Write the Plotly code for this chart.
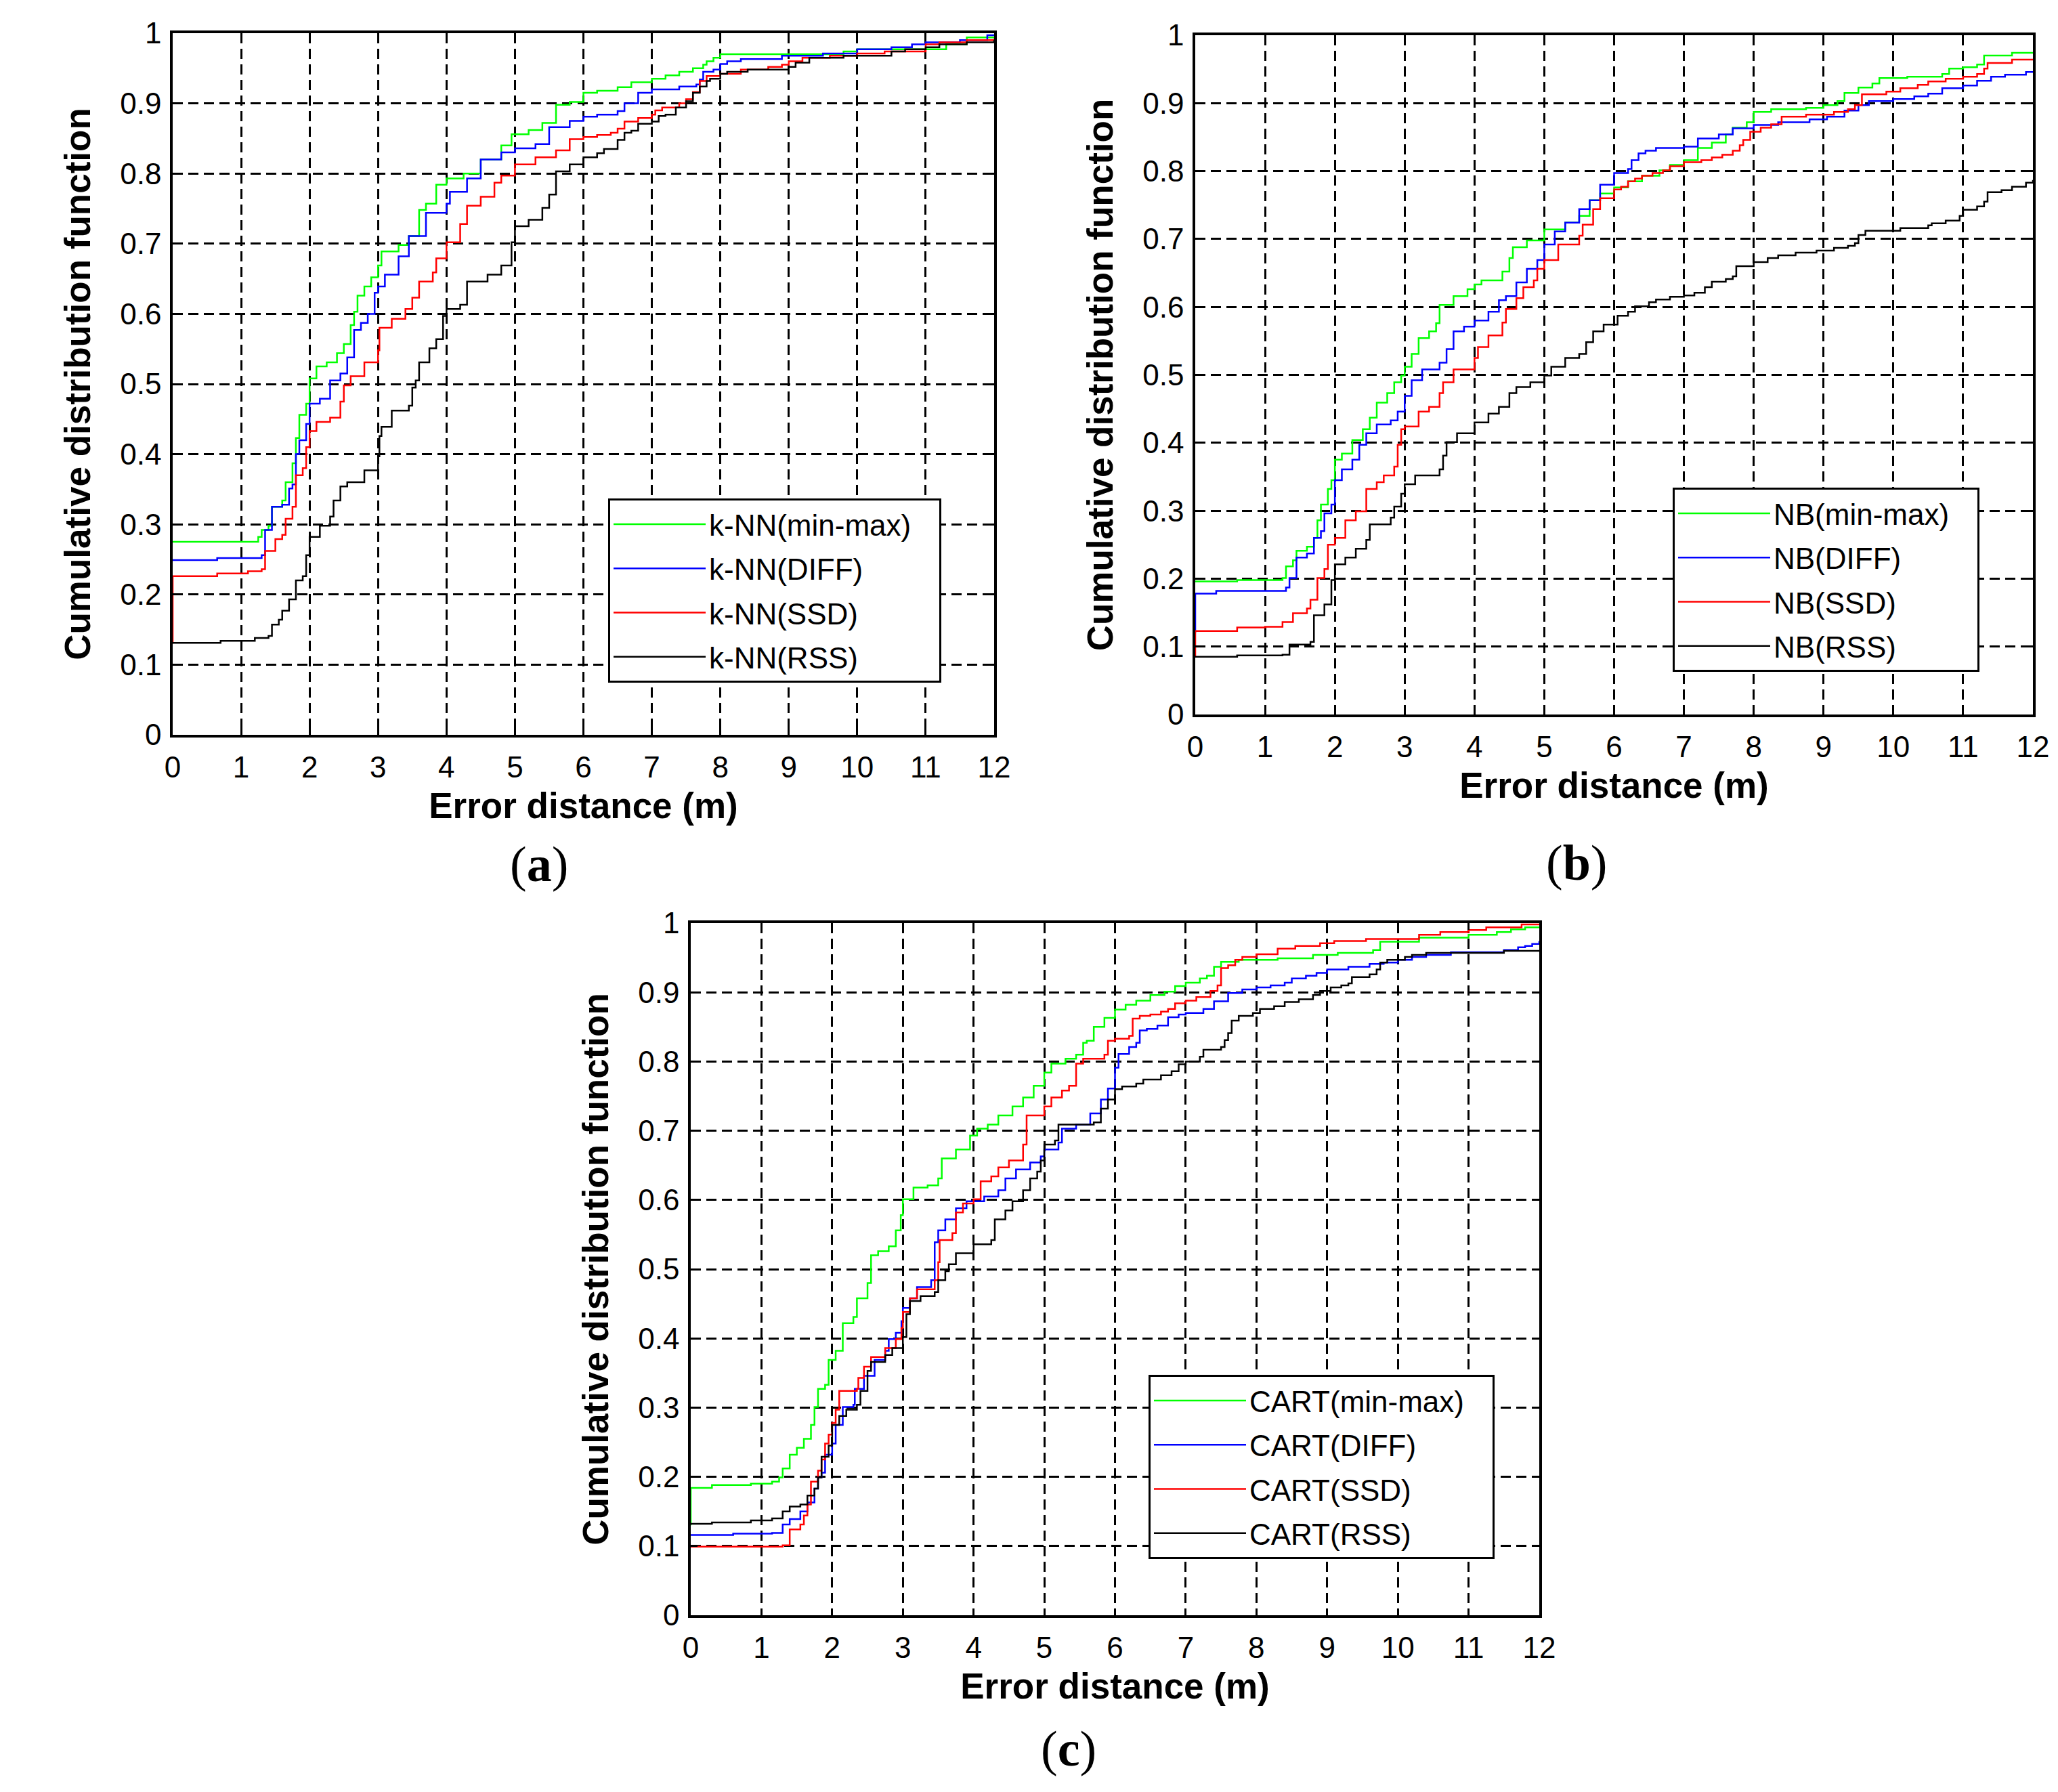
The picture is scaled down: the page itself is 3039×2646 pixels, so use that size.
import plotly.graph_objects as go

# ---------------- data (error distance in m, CDF) ----------------
# (a) k-NN
A_MINMAX_X = [0, 1.25, 1.3, 1.4, 1.45, 1.6, 1.65, 1.75, 1.8, 1.85, 1.95, 2.0, 2.1, 2.25, 2.4, 2.5, 2.6, 2.65, 2.7, 2.8,
              2.9, 3.0, 3.05, 3.3, 3.45, 3.6, 3.7, 3.85, 4.0, 4.25, 4.5, 4.8, 4.95, 5.2, 5.4, 5.6, 5.8, 6.0, 6.2, 6.5,
              6.7, 7.0, 7.2, 7.4, 7.6, 7.75, 7.8, 7.9, 8.0, 9.8, 10.0, 11.3, 11.6, 12.0]
A_MINMAX_Y = [0.275, 0.282, 0.292, 0.298, 0.325, 0.334, 0.36, 0.387, 0.423, 0.456, 0.472, 0.508, 0.525, 0.531, 0.544,
              0.557, 0.584, 0.603, 0.626, 0.639, 0.652, 0.669, 0.689, 0.698, 0.711, 0.748, 0.757, 0.784, 0.793, 0.8,
              0.82, 0.84, 0.856, 0.862, 0.872, 0.898, 0.902, 0.915, 0.918, 0.923, 0.93, 0.935, 0.94, 0.945, 0.95,
              0.955, 0.96, 0.965, 0.97, 0.974, 0.977, 0.984, 0.994, 0.994]
A_DIFF_X = [0, 0.65, 1.3, 1.35, 1.45, 1.6, 1.7, 1.75, 1.8, 1.85, 1.95, 2.0, 2.15, 2.3, 2.45, 2.55, 2.65, 2.75, 2.85,
            2.95, 3.0, 3.1, 3.3, 3.45, 3.7, 4.0, 4.05, 4.3, 4.5, 4.8, 5.0, 5.3, 5.5, 5.8, 6.0, 6.2, 6.5, 6.6, 6.8,
            7.0, 7.4, 7.65, 7.7, 7.75, 7.9, 8.0, 8.1, 8.3, 8.9, 9.5, 10.0, 10.5, 10.8, 11.0, 11.5, 11.9, 12.0]
A_DIFF_Y = [0.249, 0.252, 0.256, 0.292, 0.325, 0.328, 0.351, 0.357, 0.4, 0.42, 0.443, 0.472, 0.479, 0.505, 0.515,
            0.538, 0.577, 0.587, 0.6, 0.63, 0.639, 0.656, 0.682, 0.711, 0.744, 0.757, 0.774, 0.793, 0.82, 0.83,
            0.836, 0.842, 0.866, 0.875, 0.881, 0.884, 0.889, 0.9, 0.915, 0.92, 0.924, 0.927, 0.934, 0.945, 0.948,
            0.956, 0.96, 0.963, 0.968, 0.971, 0.977, 0.98, 0.984, 0.987, 0.99, 0.997, 0.997]
A_SSD_X = [0, 0, 0.65, 1.1, 1.3, 1.35, 1.5, 1.6, 1.65, 1.75, 1.8, 1.9, 1.95, 2.0, 2.1, 2.3, 2.45, 2.5, 2.6, 2.8, 3.0,
           3.02, 3.2, 3.4, 3.5, 3.6, 3.8, 3.85, 4.0, 4.2, 4.3, 4.5, 4.7, 4.8, 5.0, 5.3, 5.6, 5.8, 6.0, 6.2, 6.4,
           6.5, 6.6, 6.8, 7.0, 7.05, 7.15, 7.4, 7.5, 7.6, 7.7, 7.8, 8.0, 8.3, 8.7, 8.9, 9.0, 9.2, 9.6, 10.0, 10.4,
           11.0, 11.2, 11.6, 12.0]
A_SSD_Y = [0.13, 0.226, 0.23, 0.233, 0.236, 0.262, 0.279, 0.285, 0.308, 0.325, 0.37, 0.38, 0.41, 0.433, 0.446, 0.452,
           0.475, 0.498, 0.511, 0.531, 0.548, 0.58, 0.593, 0.607, 0.623, 0.646, 0.659, 0.679, 0.702, 0.728, 0.754,
           0.767, 0.787, 0.797, 0.813, 0.823, 0.833, 0.849, 0.852, 0.855, 0.858, 0.864, 0.874, 0.879, 0.884, 0.89,
           0.894, 0.9, 0.906, 0.916, 0.932, 0.939, 0.942, 0.948, 0.952, 0.955, 0.96, 0.965, 0.968, 0.971, 0.974,
           0.984, 0.987, 0.99, 0.992]
A_RSS_X = [0, 0.7, 1.2, 1.4, 1.45, 1.55, 1.6, 1.7, 1.8, 1.9, 1.95, 2.0, 2.15, 2.3, 2.35, 2.45, 2.55, 2.8, 3.0, 3.02,
           3.05, 3.2, 3.45, 3.5, 3.55, 3.6, 3.75, 3.85, 3.95, 4.0, 4.2, 4.3, 4.6, 4.8, 4.95, 5.0, 5.2, 5.4, 5.5, 5.6,
           5.8, 6.0, 6.2, 6.3, 6.5, 6.6, 6.7, 6.8, 7.0, 7.1, 7.2, 7.35, 7.5, 7.6, 7.7, 7.8, 7.85, 8.0, 8.1, 8.4,
           9.0, 9.1, 9.3, 9.8, 10.5, 10.7, 11.0, 11.2, 11.6, 12.0]
A_RSS_Y = [0.131, 0.134, 0.138, 0.141, 0.157, 0.164, 0.177, 0.193, 0.22, 0.226, 0.256, 0.282, 0.298, 0.311, 0.334,
           0.354, 0.36, 0.377, 0.397, 0.426, 0.439, 0.462, 0.469, 0.495, 0.505, 0.531, 0.551, 0.564, 0.597, 0.607,
           0.613, 0.646, 0.656, 0.669, 0.702, 0.725, 0.734, 0.751, 0.77, 0.803, 0.813, 0.823, 0.829, 0.835, 0.848,
           0.858, 0.861, 0.871, 0.874, 0.882, 0.884, 0.894, 0.903, 0.915, 0.924, 0.932, 0.935, 0.942, 0.945, 0.948,
           0.952, 0.958, 0.965, 0.968, 0.974, 0.977, 0.98, 0.984, 0.987, 0.99]

# (b) NB
B_MINMAX_X = [0, 0.6, 1.25, 1.3, 1.4, 1.45, 1.6, 1.7, 1.75, 1.8, 1.9, 1.95, 2.0, 2.1, 2.25, 2.4, 2.5, 2.6, 2.75, 2.85,
              2.95, 3.0, 3.1, 3.2, 3.35, 3.45, 3.5, 3.7, 3.9, 4.0, 4.1, 4.4, 4.5, 4.55, 4.75, 5.0, 5.3, 5.5, 5.65,
              5.8, 6.0, 6.2, 6.4, 6.65, 6.8, 7.0, 7.2, 7.4, 7.6, 7.7, 7.9, 8.0, 8.25, 8.75, 9.0, 9.2, 9.3, 9.5, 9.7,
              9.8, 10.2, 10.7, 10.8, 11.0, 11.2, 11.3, 11.7, 12.0]
B_MINMAX_Y = [0.196, 0.198, 0.201, 0.218, 0.227, 0.241, 0.247, 0.26, 0.286, 0.309, 0.332, 0.345, 0.375, 0.384, 0.404,
              0.42, 0.437, 0.459, 0.473, 0.489, 0.499, 0.512, 0.531, 0.554, 0.564, 0.576, 0.603, 0.616, 0.626, 0.633,
              0.639, 0.652, 0.672, 0.688, 0.698, 0.714, 0.724, 0.734, 0.757, 0.767, 0.776, 0.785, 0.793, 0.801,
              0.809, 0.816, 0.834, 0.842, 0.854, 0.864, 0.872, 0.887, 0.891, 0.893, 0.897, 0.903, 0.915, 0.923,
              0.929, 0.937, 0.939, 0.943, 0.951, 0.953, 0.957, 0.97, 0.974, 0.974]
B_DIFF_X = [0, 0, 0.3, 1.3, 1.35, 1.45, 1.6, 1.7, 1.8, 1.85, 1.95, 2.0, 2.1, 2.25, 2.35, 2.45, 2.6, 2.8, 2.9, 3.0,
            3.1, 3.25, 3.5, 3.6, 3.7, 3.85, 4.0, 4.2, 4.35, 4.45, 4.6, 4.75, 4.9, 5.0, 5.15, 5.3, 5.5, 5.65, 5.8,
            6.0, 6.2, 6.25, 6.35, 6.45, 6.6, 7.0, 7.2, 7.5, 7.7, 8.0, 8.35, 8.8, 9.05, 9.3, 9.5, 9.65, 10.0, 10.3,
            10.5, 10.7, 11.0, 11.2, 11.4, 11.6, 11.9, 12.0]
B_DIFF_Y = [0.12, 0.178, 0.182, 0.187, 0.201, 0.231, 0.237, 0.26, 0.27, 0.296, 0.309, 0.345, 0.361, 0.375, 0.397,
            0.414, 0.427, 0.433, 0.446, 0.469, 0.492, 0.508, 0.518, 0.538, 0.564, 0.571, 0.58, 0.593, 0.61, 0.616,
            0.636, 0.656, 0.669, 0.692, 0.711, 0.724, 0.744, 0.757, 0.78, 0.797, 0.803, 0.816, 0.826, 0.83, 0.834,
            0.836, 0.848, 0.854, 0.863, 0.868, 0.872, 0.876, 0.88, 0.889, 0.897, 0.903, 0.906, 0.91, 0.914, 0.922,
            0.926, 0.933, 0.939, 0.942, 0.946, 0.946]
B_SSD_X = [0, 0, 0.6, 1.0, 1.25, 1.4, 1.6, 1.65, 1.75, 1.85, 1.9, 2.0, 2.15, 2.3, 2.45, 2.6, 2.7, 2.85, 2.9, 2.95, 3.0,
           3.2, 3.35, 3.5, 3.55, 3.7, 4.0, 4.05, 4.2, 4.4, 4.45, 4.6, 4.7, 4.85, 4.9, 5.0, 5.2, 5.5, 5.55, 5.7, 5.8,
           6.0, 6.1, 6.2, 6.3, 6.4, 6.55, 6.7, 6.8, 7.0, 7.25, 7.4, 7.55, 7.7, 7.8, 7.85, 7.95, 8.1, 8.25, 8.4,
           8.75, 9.15, 9.35, 9.45, 9.55, 9.9, 10.1, 10.35, 10.5, 10.75, 11.0, 11.2, 11.3, 11.35, 11.7, 12.0]
B_SSD_Y = [0.085, 0.123, 0.128, 0.129, 0.136, 0.149, 0.156, 0.169, 0.201, 0.214, 0.25, 0.26, 0.286, 0.299, 0.332,
           0.342, 0.352, 0.365, 0.397, 0.42, 0.424, 0.446, 0.453, 0.473, 0.489, 0.508, 0.525, 0.541, 0.558, 0.577,
           0.597, 0.613, 0.629, 0.639, 0.656, 0.669, 0.692, 0.705, 0.721, 0.744, 0.76, 0.773, 0.777, 0.785, 0.789,
           0.793, 0.797, 0.801, 0.807, 0.813, 0.816, 0.82, 0.824, 0.83, 0.838, 0.846, 0.858, 0.864, 0.869, 0.88,
           0.883, 0.887, 0.891, 0.897, 0.913, 0.917, 0.922, 0.927, 0.932, 0.936, 0.939, 0.943, 0.951, 0.959, 0.964,
           0.964]
B_RSS_X = [0, 0.6, 1.25, 1.35, 1.65, 1.7, 1.85, 1.95, 2.0, 2.15, 2.3, 2.45, 2.5, 2.8, 2.85, 2.95, 3.0, 3.15, 3.5,
           3.55, 3.6, 3.75, 4.0, 4.2, 4.35, 4.5, 4.6, 4.8, 5.0, 5.1, 5.3, 5.5, 5.6, 5.7, 5.85, 6.05, 6.2, 6.3, 6.5,
           6.6, 6.8, 7.0, 7.15, 7.3, 7.4, 7.6, 7.7, 7.75, 8.0, 8.2, 8.35, 8.6, 8.9, 9.15, 9.35, 9.45, 9.5, 9.6,
           10.1, 10.5, 10.55, 10.75, 10.95, 11.0, 11.2, 11.3, 11.35, 11.55, 11.7, 11.9, 12.0]
B_RSS_Y = [0.085, 0.087, 0.088, 0.103, 0.107, 0.146, 0.162, 0.198, 0.221, 0.231, 0.244, 0.257, 0.28, 0.29, 0.306,
           0.325, 0.339, 0.352, 0.361, 0.381, 0.401, 0.414, 0.43, 0.443, 0.453, 0.473, 0.482, 0.489, 0.499, 0.512,
           0.525, 0.531, 0.548, 0.564, 0.574, 0.587, 0.593, 0.601, 0.607, 0.611, 0.615, 0.617, 0.621, 0.629, 0.637,
           0.641, 0.645, 0.66, 0.666, 0.672, 0.676, 0.68, 0.683, 0.687, 0.69, 0.694, 0.706, 0.712, 0.716, 0.72,
           0.723, 0.727, 0.734, 0.743, 0.748, 0.755, 0.769, 0.772, 0.777, 0.783, 0.787]

# (c) CART
C_MINMAX_X = [0, 0, 0.3, 0.85, 1.15, 1.25, 1.3, 1.4, 1.5, 1.6, 1.7, 1.75, 1.8, 1.9, 1.95, 2.05, 2.15, 2.3, 2.35, 2.5,
              2.55, 2.65, 2.8, 2.9, 2.97, 3.0, 3.15, 3.35, 3.5, 3.55, 3.75, 3.95, 4.05, 4.2, 4.35, 4.55, 4.7, 4.85,
              5.0, 5.1, 5.3, 5.45, 5.55, 5.6, 5.7, 5.85, 6.0, 6.15, 6.3, 6.5, 6.7, 6.85, 7.0, 7.2, 7.3, 7.4, 7.5,
              7.75, 8.3, 8.8, 9.15, 9.65, 9.75, 10.3, 11.0, 11.4, 11.6, 11.8, 12.0]
C_MINMAX_Y = [0.13, 0.184, 0.188, 0.19, 0.193, 0.199, 0.212, 0.232, 0.242, 0.255, 0.275, 0.301, 0.327, 0.333, 0.369,
              0.382, 0.422, 0.431, 0.458, 0.48, 0.52, 0.526, 0.533, 0.556, 0.578, 0.601, 0.618, 0.621, 0.631, 0.66,
              0.673, 0.693, 0.703, 0.709, 0.722, 0.735, 0.748, 0.765, 0.784, 0.797, 0.804, 0.81, 0.827, 0.83, 0.85,
              0.863, 0.875, 0.882, 0.888, 0.896, 0.901, 0.909, 0.914, 0.92, 0.924, 0.937, 0.944, 0.947, 0.949,
              0.954, 0.957, 0.961, 0.973, 0.979, 0.983, 0.987, 0.991, 0.994, 0.994]
C_DIFF_X = [0, 0.6, 1.15, 1.3, 1.4, 1.55, 1.65, 1.75, 1.8, 1.85, 1.9, 2.0, 2.05, 2.15, 2.3, 2.32, 2.45, 2.6, 2.75,
            2.8, 2.9, 2.98, 3.0, 3.1, 3.2, 3.4, 3.45, 3.5, 3.6, 3.75, 3.9, 4.15, 4.35, 4.45, 4.6, 4.8, 4.95, 5.0,
            5.2, 5.25, 5.45, 5.65, 5.8, 5.9, 6.0, 6.05, 6.2, 6.3, 6.35, 6.45, 6.6, 6.75, 6.9, 7.0, 7.25, 7.4, 7.6,
            7.8, 8.0, 8.2, 8.4, 8.5, 8.7, 8.85, 9.0, 9.3, 9.6, 9.8, 10.0, 10.2, 10.4, 10.75, 11.5, 11.7, 11.8, 11.9,
            12.0]
C_DIFF_Y = [0.116, 0.118, 0.119, 0.131, 0.139, 0.15, 0.163, 0.183, 0.199, 0.206, 0.232, 0.248, 0.275, 0.301, 0.304,
            0.327, 0.346, 0.369, 0.382, 0.399, 0.408, 0.425, 0.444, 0.458, 0.474, 0.484, 0.539, 0.556, 0.572, 0.588,
            0.598, 0.605, 0.614, 0.631, 0.644, 0.654, 0.663, 0.673, 0.683, 0.703, 0.709, 0.725, 0.745, 0.761, 0.791,
            0.811, 0.821, 0.827, 0.845, 0.847, 0.852, 0.864, 0.868, 0.87, 0.876, 0.887, 0.899, 0.904, 0.907, 0.91,
            0.914, 0.92, 0.924, 0.928, 0.933, 0.937, 0.941, 0.943, 0.947, 0.951, 0.954, 0.958, 0.961, 0.965, 0.967,
            0.97, 0.974]
C_SSD_X = [0, 0.6, 1.3, 1.4, 1.55, 1.6, 1.65, 1.7, 1.8, 1.85, 1.9, 1.95, 2.0, 2.05, 2.1, 2.35, 2.37, 2.45, 2.55,
           2.75, 2.9, 2.98, 3.0, 3.1, 3.2, 3.45, 3.5, 3.52, 3.7, 3.75, 3.85, 4.0, 4.1, 4.25, 4.35, 4.5, 4.7, 4.75,
           5.0, 5.1, 5.25, 5.35, 5.45, 5.55, 5.85, 5.9, 6.0, 6.2, 6.25, 6.35, 6.5, 6.65, 6.75, 6.85, 7.0, 7.15,
           7.35, 7.45, 7.5, 7.6, 7.7, 7.8, 8.0, 8.3, 8.55, 8.9, 9.1, 9.55, 10.3, 10.6, 11.0, 11.25, 11.75, 12.0]
C_SSD_Y = [0.099, 0.099, 0.101, 0.124, 0.131, 0.144, 0.16, 0.193, 0.209, 0.225, 0.248, 0.261, 0.278, 0.297, 0.324,
           0.327, 0.343, 0.359, 0.373, 0.386, 0.399, 0.415, 0.438, 0.458, 0.471, 0.484, 0.51, 0.542, 0.552, 0.582,
           0.595, 0.601, 0.627, 0.634, 0.647, 0.657, 0.68, 0.722, 0.735, 0.748, 0.758, 0.765, 0.797, 0.804, 0.81,
           0.83, 0.833, 0.837, 0.862, 0.866, 0.868, 0.872, 0.876, 0.884, 0.888, 0.893, 0.902, 0.91, 0.935, 0.939,
           0.947, 0.951, 0.955, 0.963, 0.967, 0.971, 0.974, 0.977, 0.983, 0.987, 0.99, 0.994, 0.998, 0.998]
C_RSS_X = [0, 0.3, 0.85, 1.15, 1.3, 1.4, 1.55, 1.65, 1.75, 1.8, 1.85, 1.95, 2.0, 2.1, 2.2, 2.35, 2.4, 2.5, 2.55, 2.75,
           2.85, 3.0, 3.05, 3.1, 3.25, 3.45, 3.5, 3.6, 3.65, 3.75, 4.0, 4.25, 4.3, 4.45, 4.55, 4.7, 4.8, 4.9, 4.95,
           5.0, 5.15, 5.2, 5.7, 5.8, 5.9, 6.0, 6.1, 6.3, 6.4, 6.65, 6.8, 6.9, 7.0, 7.2, 7.25, 7.5, 7.55, 7.6, 7.65,
           7.75, 7.95, 8.05, 8.25, 8.4, 8.6, 8.8, 8.9, 9.05, 9.2, 9.3, 9.35, 9.6, 9.7, 9.75, 9.85, 10.1, 10.2,
           10.4, 11.5, 12.0]
C_RSS_Y = [0.132, 0.134, 0.137, 0.14, 0.15, 0.157, 0.16, 0.173, 0.183, 0.199, 0.229, 0.245, 0.275, 0.288, 0.297,
           0.304, 0.324, 0.353, 0.366, 0.376, 0.386, 0.402, 0.435, 0.454, 0.461, 0.467, 0.484, 0.497, 0.507, 0.523,
           0.536, 0.542, 0.572, 0.585, 0.598, 0.614, 0.631, 0.641, 0.657, 0.68, 0.686, 0.709, 0.712, 0.732, 0.745,
           0.76, 0.764, 0.768, 0.774, 0.78, 0.786, 0.796, 0.8, 0.807, 0.817, 0.821, 0.831, 0.841, 0.859, 0.866,
           0.87, 0.876, 0.88, 0.886, 0.89, 0.896, 0.902, 0.907, 0.91, 0.913, 0.922, 0.926, 0.933, 0.943, 0.947,
           0.951, 0.954, 0.957, 0.96, 0.96]

METHODS = ["min-max", "DIFF", "SSD", "RSS"]
COLORS = ["#00ff00", "#0000ff", "#ff0000", "#000000"]
PANELS = [
    ("k-NN", "(<b>a</b>)", [(A_MINMAX_X, A_MINMAX_Y), (A_DIFF_X, A_DIFF_Y), (A_SSD_X, A_SSD_Y), (A_RSS_X, A_RSS_Y)]),
    ("NB", "(<b>b</b>)", [(B_MINMAX_X, B_MINMAX_Y), (B_DIFF_X, B_DIFF_Y), (B_SSD_X, B_SSD_Y), (B_RSS_X, B_RSS_Y)]),
    ("CART", "(<b>c</b>)", [(C_MINMAX_X, C_MINMAX_Y), (C_DIFF_X, C_DIFF_Y), (C_SSD_X, C_SSD_Y), (C_RSS_X, C_RSS_Y)]),
]
X_TICKS = list(range(0, 13))
Y_TICKS = [round(i * 0.1, 1) for i in range(11)]

W, H = 3039, 2646
FONT = "Liberation Sans"
PAD = "\u00a0\u00a0\u00a0"  # right padding inside the legend boxes

# plot boxes in pixels (left, right, top, bottom), legend top-left corners, label centres
BOXES = [(247, 1460, 41, 1077), (1757, 2994, 44, 1047), (1012, 2265, 1355, 2377)]
LEGEND_POS = [(890, 728), (2462, 712), (1688, 2022)]
LABEL_POS = [(788, 1268), (2320, 1266), (1570, 2574)]

fig = go.Figure()
layout = dict(
    width=W, height=H,
    margin=dict(l=0, r=0, t=0, b=0, autoexpand=False),
    paper_bgcolor="white", plot_bgcolor="white",
    font=dict(family=FONT, color="black", size=44),
    annotations=[],
)

for i, (clf, label, series) in enumerate(PANELS):
    n = "" if i == 0 else str(i + 1)
    leg = "legend" + n
    for (xs, ys), m, c in zip(series, METHODS, COLORS):
        if len(xs) != len(ys):
            raise ValueError(f"{clf} {m}: {len(xs)} x vs {len(ys)} y")
        fig.add_trace(go.Scatter(
            x=xs, y=ys, mode="lines", line=dict(color=c, width=2.5, shape="hv"),
            name=f"{clf}({m}){PAD}", xaxis="x" + n, yaxis="y" + n, legend=leg,
            legendgroup=f"{clf}-{m}",
        ))

    l, r, t, b = BOXES[i]
    common = dict(
        showline=True, linecolor="black", linewidth=3.5, mirror="all",
        ticks="inside", ticklen=10, tickwidth=2.5, tickcolor="black",
        showgrid=True, gridcolor="black", gridwidth=2.5, griddash="15px,8px",
        zeroline=False, automargin=False, tickfont=dict(size=44, family=FONT),
        title_font=dict(size=53, family=FONT, weight="bold"),
    )
    layout["xaxis" + n] = dict(
        common, domain=[l / W, r / W], range=[0, 12], tickvals=X_TICKS,
        anchor="y" + n, title=dict(text="<b>Error distance (m)</b>", standoff=16),
        ticklabelstandoff=6,
    )
    layout["yaxis" + n] = dict(
        common, domain=[1 - b / H, 1 - t / H], range=[0, 1], tickvals=Y_TICKS,
        anchor="x" + n, title=dict(text="<b>Cumulative distribution function</b>", standoff=28),
        ticklabelstandoff=4,
    )
    lx, ly = LEGEND_POS[i]
    layout[leg] = dict(
        x=lx / W, y=1 - ly / H, xanchor="left", yanchor="top",
        bordercolor="black", borderwidth=3, bgcolor="white",
        font=dict(size=44, family=FONT), itemwidth=136, tracegroupgap=5,
    )
    cx, cy = LABEL_POS[i]
    layout["annotations"].append(dict(
        text=label, x=cx / W, y=1 - cy / H, xref="paper", yref="paper",
        showarrow=False, xanchor="center", yanchor="middle",
        font=dict(size=74, family="Liberation Serif", color="black"),
    ))

fig.update_layout(**layout)
fig.write_html("out.html")
